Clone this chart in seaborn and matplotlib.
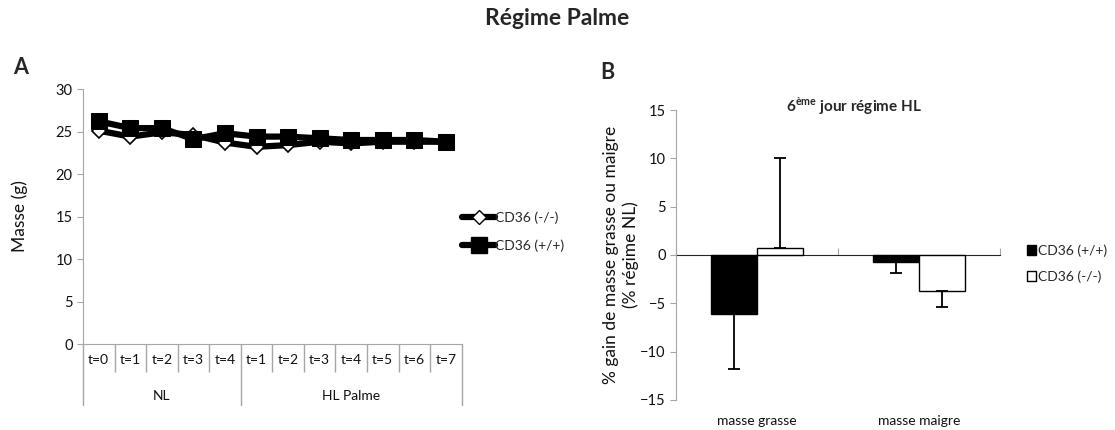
import numpy as np
import pandas as pd
import seaborn as sns
import matplotlib
matplotlib.use("Agg")
import matplotlib.pyplot as plt
from matplotlib.lines import Line2D
from matplotlib.patches import Patch

# ---- data panel A : body mass (g) ----
t_labels = ["t=0", "t=1", "t=2", "t=3", "t=4",
            "t=1", "t=2", "t=3", "t=4", "t=5", "t=6", "t=7"]
groups = ["NL", "HL Palme"]
group_sizes = [5, 7]
masse_ko = [25.1, 24.4, 24.9, 24.6, 23.7, 23.2, 23.4, 23.8, 23.6, 23.8, 23.8, 23.8]   # CD36 (-/-)
masse_wt = [26.2, 25.4, 25.4, 24.1, 24.8, 24.4, 24.4, 24.2, 24.0, 24.0, 24.0, 23.8]   # CD36 (+/+)

# ---- data panel B : % gain (vs NL) ----
compartments = ["masse grasse", "masse maigre"]
genotypes = ["CD36 (+/+)", "CD36 (-/-)"]
gain_wt = [-6.1, -0.7]
gain_ko = [0.7, -3.7]
err_wt = [5.7, 1.2]
err_ko = [9.3, 1.7]

sns.set_style("white")
plt.rcParams["font.family"] = ["Lato", "DejaVu Sans"]
plt.rcParams["mathtext.fontset"] = "custom"
plt.rcParams["mathtext.bf"] = "Lato:bold"
plt.rcParams["mathtext.rm"] = "Lato"
GRAY = "#a6a6a6"
TXT = "#111111"

fig = plt.figure(figsize=(11.15, 4.3), dpi=100)
fig.text(0.5, 0.956, "Régime Palme", ha="center", va="center", fontsize=16.5, fontweight="bold")
fig.text(0.012, 0.842, "A", fontsize=15.5, fontweight="bold", va="center")
fig.text(0.538, 0.832, "B", fontsize=15.5, fontweight="bold", va="center")

# ================= panel A =================
axA = fig.add_axes([0.0744, 0.2, 0.3396, 0.593])
pos = np.arange(len(t_labels))
sns.lineplot(x=pos, y=masse_ko, ax=axA, color="black", lw=4.5, marker="D",
             markersize=7, markerfacecolor="white", markeredgecolor="black",
             markeredgewidth=1.2, label="CD36 (-/-)", legend=False)
sns.lineplot(x=pos, y=masse_wt, ax=axA, color="black", lw=4.5, marker="s",
             markersize=11.5, markerfacecolor="black", markeredgecolor="black",
             label="CD36 (+/+)", legend=False)
axA.set_ylim(0, 30)
axA.set_xlim(-0.5, len(t_labels) - 0.5)
axA.set_yticks(np.arange(0, 31, 5))
axA.set_xticks(np.arange(-0.5, len(t_labels), 1))
axA.set_xticklabels([])
axA.set_xticks(pos, minor=True)
axA.set_xticklabels(t_labels, minor=True)
axA.tick_params(axis="x", which="major", length=20, width=1, color=GRAY,
                direction="out", bottom=True)
axA.tick_params(axis="x", which="minor", length=0, pad=7, labelsize=10,
                labelcolor=TXT, bottom=True)
axA.tick_params(axis="y", length=4, color=GRAY, direction="out", labelsize=10.5,
                labelcolor=TXT, left=True)
for s in ["top", "right"]:
    axA.spines[s].set_visible(False)
for s in ["left", "bottom"]:
    axA.spines[s].set_color(GRAY)
axA.set_ylabel("Masse (g)", fontsize=12.5, color=TXT, labelpad=20)
axA.set_xlabel("")

edges = np.concatenate([[0], np.cumsum(group_sizes)]) - 0.5
tr = axA.get_xaxis_transform()
for e in edges:
    axA.plot([e, e], [-0.11, -0.24], transform=tr, color=GRAY, lw=1, clip_on=False)
for g, a, b in zip(groups, edges[:-1], edges[1:]):
    axA.text((a + b) / 2, -0.205, g, transform=tr, ha="center", va="center",
             fontsize=10, color=TXT)

handles_A = [
    Line2D([], [], color="black", lw=4.5, marker="D", markersize=7,
           markerfacecolor="white", markeredgecolor="black"),
    Line2D([], [], color="black", lw=4.5, marker="s", markersize=11.5,
           markerfacecolor="black", markeredgecolor="black"),
]
fig.legend(handles_A, ["CD36 (-/-)", "CD36 (+/+)"], loc="center left",
           bbox_to_anchor=(0.403, 0.462), frameon=False, fontsize=10,
           handlelength=2.4, handletextpad=0.0, labelspacing=1.1)

# ================= panel B =================
axB = fig.add_axes([0.6063, 0.07, 0.2906, 0.674])
dfB = pd.DataFrame({
    "compartiment": compartments * 2,
    "genotype": [genotypes[0]] * 2 + [genotypes[1]] * 2,
    "gain": gain_wt + gain_ko,
})
sns.barplot(data=dfB, x="compartiment", y="gain", hue="genotype", hue_order=genotypes,
            palette={genotypes[0]: "black", genotypes[1]: "white"}, edgecolor="black",
            linewidth=1.0, width=0.57, gap=0, errorbar=None, ax=axB, legend=False)
errs = {genotypes[0]: err_wt, genotypes[1]: err_ko}
for cont, gname in zip(axB.containers, genotypes):
    for bar, e in zip(cont, errs[gname]):
        xc = bar.get_x() + bar.get_width() / 2
        h = bar.get_height()
        yerr = [[e], [0]] if h < 0 else [[0], [e]]
        axB.errorbar(xc, h, yerr=yerr, color="black", lw=1.3, capsize=4.5,
                     capthick=1.3, fmt="none")

axB.set_ylim(-15, 15)
axB.set_xlim(-0.5, 1.5)
axB.set_yticks(np.arange(-15, 16, 5))
axB.tick_params(axis="y", length=4, color=GRAY, direction="out", labelsize=10.5,
                labelcolor=TXT, left=True)
axB.tick_params(axis="x", length=0, labelsize=10, labelcolor=TXT, pad=11)
for s in ["top", "right", "bottom"]:
    axB.spines[s].set_visible(False)
axB.spines["left"].set_color(GRAY)
axB.set_xlabel("")
axB.set_ylabel("% gain de masse grasse ou maigre\n(% régime NL)", fontsize=12.5,
               color=TXT, labelpad=1, linespacing=1.25)
zero_ax = axB.secondary_xaxis(0.5)
zero_ax.set_xticks([-0.5, 0.5, 1.5])
zero_ax.set_xticklabels([])
zero_ax.tick_params(length=5, color=GRAY, direction="out")
zero_ax.spines["bottom"].set_color(GRAY)
axB.text(0.55, 1.015, r"6$^{\mathbf{ème}}$ jour régime HL", transform=axB.transAxes,
         ha="center", va="center", fontsize=11, fontweight="bold")

handles_B = [Patch(facecolor="black", edgecolor="black"),
             Patch(facecolor="white", edgecolor="black")]
fig.legend(handles_B, genotypes, loc="center left", bbox_to_anchor=(0.912, 0.387),
           frameon=False, fontsize=10, handlelength=0.7, handleheight=0.7,
           handletextpad=0.15, labelspacing=1.0, borderpad=0.2)

fig.savefig("out.png", dpi=100)
